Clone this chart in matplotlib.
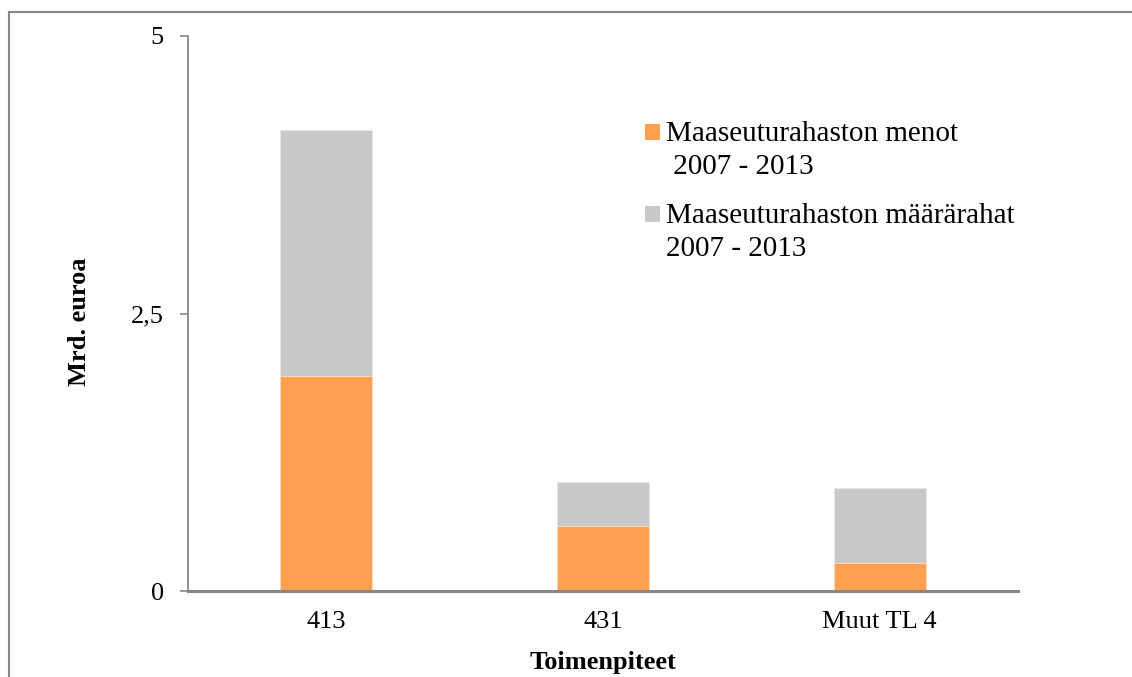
import matplotlib.pyplot as plt
from matplotlib.patches import Rectangle
from matplotlib.lines import Line2D

# data (Mrd. euroa)
toimenpiteet = ['413', '431', 'Muut TL 4']
menot = [1.94, 0.585, 0.25]          # Maaseuturahaston menot 2007 - 2013
maararahat = [4.15, 0.98, 0.93]      # Maaseuturahaston määrärahat 2007 - 2013
y_ticks = [0, 2.5, 5]
y_ticklabels = ['0', '2,5', '5']

W, H = 1132, 677
orange = '#FF9F50'
grey = '#C8C8C8'
spine_col = '#878787'

plt.rcParams['font.family'] = ['Liberation Serif', 'DejaVu Serif']

fig = plt.figure(figsize=(W / 100, H / 100), dpi=100)
ax = fig.add_axes([188 / W, 1 - 591 / H, (1018 - 188) / W, (591 - 36) / H])

x = range(len(toimenpiteet))
# appropriations drawn full height, expenditures in front
ax.bar(x, maararahat, width=0.333, color=grey, edgecolor='#E6E6E6', linewidth=0.8, zorder=2)
ax.bar(x, menot, width=0.333, color=orange, edgecolor='#FFD9B8', linewidth=0.8, zorder=3)

ax.set_xlim(-0.5, 2.5)
ax.set_ylim(0, 5)
ax.set_yticks(y_ticks)
ax.set_yticklabels(y_ticklabels)
ax.set_xticks(list(x))
ax.set_xticklabels(toimenpiteet)

ax.tick_params(axis='y', length=5.8, width=1.2, color=spine_col, pad=11.5, labelsize=19)
ax.tick_params(axis='x', length=0, pad=14.5, labelsize=19)

for s in ['top', 'right']:
    ax.spines[s].set_visible(False)
ax.spines['left'].set_color(spine_col)
ax.spines['left'].set_linewidth(1.3)
ax.spines['bottom'].set_color(spine_col)
ax.spines['bottom'].set_linewidth(2.2)
ax.spines['bottom'].set_zorder(4)

ax.set_ylabel('Mrd. euroa', fontsize=19, fontweight='bold')
ax.yaxis.set_label_coords(-0.117, 0.485)
ax.set_xlabel('Toimenpiteet', fontsize=19, fontweight='bold')
ax.xaxis.set_label_coords(0.5, -0.108)

# legend, drawn by hand so the swatch sits next to the first line
def px(xp, yp):
    return xp / W, 1 - yp / H

legend_items = [
    (orange, 'Maaseuturahaston menot', ' 2007 - 2013', 124),
    (grey, 'Maaseuturahaston määrärahat', '2007 - 2013', 206),
]
for col, l1, l2, ytop in legend_items:
    x0, y0 = px(645, ytop + 16)
    fig.add_artist(Rectangle((x0, y0), 15 / W, 16 / H, transform=fig.transFigure,
                             facecolor=col, edgecolor='none'))
    fig.text(*px(666, ytop + 17), l1, fontsize=21, va='baseline', ha='left')
    fig.text(*px(666, ytop + 50), l2, fontsize=21, va='baseline', ha='left')

# outer frame (top and left only)
fig.add_artist(Line2D([9 / W, 1], [1 - 12 / H, 1 - 12 / H], transform=fig.transFigure,
                      color=spine_col, linewidth=1.5))
fig.add_artist(Line2D([9 / W, 9 / W], [0, 1 - 12 / H], transform=fig.transFigure,
                      color=spine_col, linewidth=1.5))

fig.savefig('out.png', dpi=100)
